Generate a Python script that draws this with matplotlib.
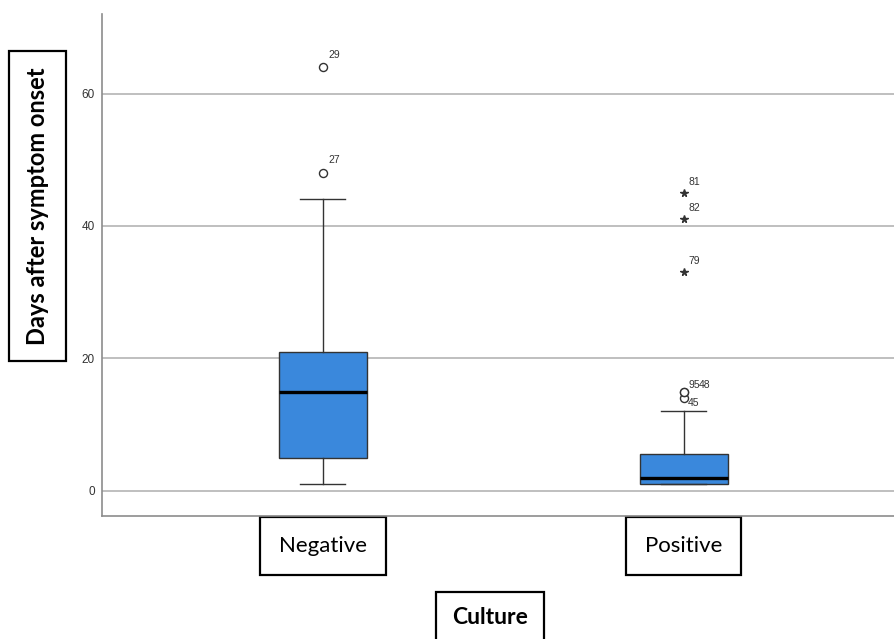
import matplotlib.pyplot as plt

# box summary per culture group
groups = ["Negative", "Positive"]
q1 = [5, 1]
median = [15, 2]
q3 = [21, 5.5]
whisker_low = [1, 1]
whisker_high = [44, 12]

# outliers (circles) and extremes (stars) with their case numbers
outliers = [[48, 64], [14, 15, 15]]
outlier_ids = [["27", "29"], ["45", "95", "48"]]
extremes = [[], [33, 41, 45]]
extreme_ids = [[], ["79", "82", "81"]]

box_color = "#3a88dc"
edge = "#333333"

fig = plt.figure(figsize=(8.94, 6.39), dpi=100)
ax = fig.add_axes([0.1141, 0.1925, 0.8859, 0.7855])

stats = []
for i, g in enumerate(groups):
    stats.append({
        "label": g, "q1": q1[i], "med": median[i], "q3": q3[i],
        "whislo": whisker_low[i], "whishi": whisker_high[i], "fliers": outliers[i],
    })

positions = [1, 2]
ax.bxp(stats, positions=positions, widths=0.246, capwidths=0.125, patch_artist=True,
       boxprops=dict(facecolor=box_color, edgecolor=edge, linewidth=1.0),
       medianprops=dict(color="black", linewidth=2.4),
       whiskerprops=dict(color=edge, linewidth=1.0),
       capprops=dict(color=edge, linewidth=1.0),
       flierprops=dict(marker="o", markerfacecolor="white", markeredgecolor=edge,
                       markersize=5.8, markeredgewidth=1.0),
       zorder=3)

for i, p in enumerate(positions):
    if extremes[i]:
        ax.plot([p] * len(extremes[i]), extremes[i], linestyle="none", marker="*",
                color=edge, markersize=5.5, zorder=4)

# case number labels
label_offsets = {
    "27": (4, 9), "29": (4, 9), "95": (3, 4.5), "48": (10.5, 4.5), "45": (3, -3.6),
    "79": (3, 8), "82": (3, 8), "81": (3, 8),
}
for i, p in enumerate(positions):
    for v, lab in zip(outliers[i] + extremes[i], outlier_ids[i] + extreme_ids[i]):
        ax.annotate(lab, (p, v), xytext=label_offsets[lab], textcoords="offset points",
                    fontsize=7.5, color="#333333", ha="left", va="center",
                    family="Liberation Sans")

ax.set_ylim(-3.8, 72)
ax.set_xlim(0.388, 2.582)
ax.set_yticks([0, 20, 40, 60])
ax.yaxis.grid(True, color="#b4b4b4", linewidth=1.2)
ax.set_axisbelow(True)
for s in ["top", "right"]:
    ax.spines[s].set_visible(False)
for s in ["left", "bottom"]:
    ax.spines[s].set_color("#8c8c8c")
    ax.spines[s].set_linewidth(1.2)
ax.tick_params(axis="y", length=0, pad=5, labelsize=8.5, labelcolor="#333333")
for t in ax.get_yticklabels():
    t.set_family("Liberation Sans")

ax.set_xticks(positions)
ax.set_xticklabels(groups, fontsize=16, family="Lato")
ax.tick_params(axis="x", length=0, pad=14.5)
for t in ax.get_xticklabels():
    t.set_bbox(dict(boxstyle="square,pad=0.85", facecolor="white", edgecolor="black", linewidth=1.6))

fig.text(37.5 / 894, 1 - 206 / 639, "Days after symptom onset", rotation=90, ha="center",
         va="center", fontsize=17, fontweight="bold", family="Lato",
         bbox=dict(boxstyle="square,pad=0.7", facecolor="white", edgecolor="black", linewidth=1.6))
fig.text(490 / 894, 1 - 618 / 639, "Culture", ha="center", va="center", fontsize=16.5,
         fontweight="bold", family="Lato",
         bbox=dict(boxstyle="square,pad=0.68", facecolor="white", edgecolor="black", linewidth=1.6))

fig.savefig("out.png", dpi=100)
